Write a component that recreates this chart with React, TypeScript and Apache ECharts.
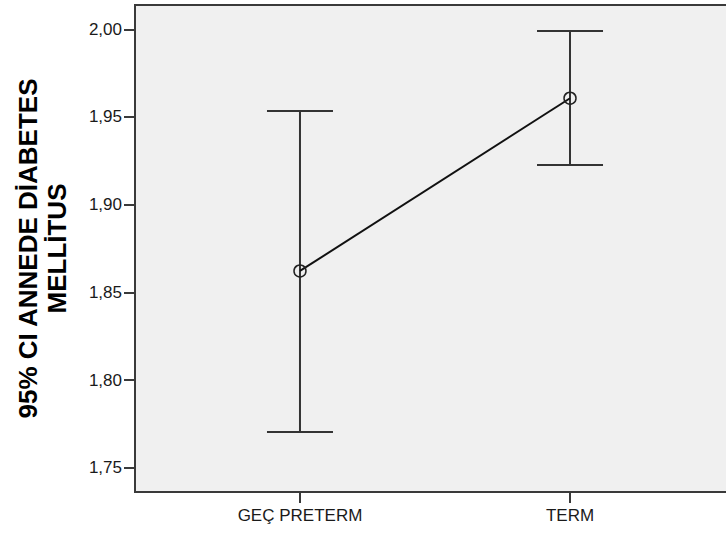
import React, { useEffect, useRef } from "react";
import * as echarts from "echarts";

const categories = ["GEÇ PRETERM", "TERM"];
const means = [1.8622, 1.9607];
const lowers = [1.7704, 1.9226];
const uppers = [1.9534, 1.999];
const yTicks = [1.75, 1.8, 1.85, 1.9, 1.95, 2.0];
const yTitle = "95% CI ANNEDE DİABETES\nMELLİTUS";

const FONT = '"Liberation Sans", Arial, sans-serif';

export default function App() {
  const ref = useRef<HTMLDivElement>(null);
  useEffect(() => {
    if (!ref.current) return;
    const chart = echarts.init(ref.current, null, { renderer: "svg" });
    const xIdx = categories.map((_, i) => i);
    const option: any = {
      animation: false,
      backgroundColor: "#ffffff",
      grid: {
        left: 135,
        top: 5,
        right: -9,
        bottom: 41,
        outerBoundsMode: "none",
        containLabel: false,
        show: true,
        backgroundColor: "#F0F0F0",
        borderColor: "#3a3a3a",
        borderWidth: 2,
      },
      xAxis: {
        type: "value",
        min: -0.611,
        max: 1.611,
        splitLine: { show: false },
        axisLine: { show: true, onZero: false, lineStyle: { color: "#3a3a3a", width: 2 } },
        axisTick: {
          show: true,
          customValues: xIdx,
          length: 11,
          lineStyle: { color: "#3a3a3a", width: 2 },
        },
        axisLabel: {
          customValues: xIdx,
          formatter: (v: number) => categories[Math.round(v)] ?? "",
          fontFamily: FONT,
          fontSize: 17,
          color: "#1a1a1a",
          margin: 15,
        },
      },
      yAxis: {
        type: "value",
        min: 1.73614,
        max: 2.01386,
        splitLine: { show: false },
        axisLine: { show: true, onZero: false, lineStyle: { color: "#3a3a3a", width: 2 } },
        axisTick: {
          show: true,
          customValues: yTicks,
          length: 11,
          lineStyle: { color: "#3a3a3a", width: 2 },
        },
        axisLabel: {
          customValues: yTicks,
          formatter: (v: number) => v.toFixed(2).replace(".", ","),
          fontFamily: FONT,
          fontSize: 17,
          color: "#1a1a1a",
          margin: 13,
        },
      },
      graphic: [
        {
          type: "text",
          x: 42,
          y: 248.5,
          rotation: Math.PI / 2,
          style: {
            text: yTitle,
            font: `bold 26px ${FONT}`,
            fill: "#000",
            textAlign: "center",
            textVerticalAlign: "middle",
            lineHeight: 29,
          },
        },
      ],
      series: [
        {
          type: "custom",
          z: 2,
          data: xIdx.map((i) => [i, lowers[i], uppers[i]]),
          renderItem: (params: any, api: any) => {
            const x = api.value(0);
            const lo = api.coord([x, api.value(1)]);
            const hi = api.coord([x, api.value(2)]);
            const half = 33;
            const style = { stroke: "#333", lineWidth: 2 };
            return {
              type: "group",
              children: [
                { type: "line", shape: { x1: lo[0], y1: lo[1], x2: hi[0], y2: hi[1] }, style },
                { type: "line", shape: { x1: hi[0] - half, y1: hi[1], x2: hi[0] + half, y2: hi[1] }, style },
                { type: "line", shape: { x1: lo[0] - half, y1: lo[1], x2: lo[0] + half, y2: lo[1] }, style },
              ],
            };
          },
        },
        {
          type: "line",
          z: 3,
          data: xIdx.map((i) => [i, means[i]]),
          symbol: "circle",
          symbolSize: 12,
          itemStyle: { color: "transparent", borderColor: "#222", borderWidth: 1.5 },
          lineStyle: { color: "#111", width: 2 },
        },
      ],
    };
    chart.setOption(option);
    return () => chart.dispose();
  }, []);
  return (
    <div
      ref={ref}
      style={{ position: "absolute", left: 0, top: 0, width: 726, height: 533 }}
    />
  );
}
